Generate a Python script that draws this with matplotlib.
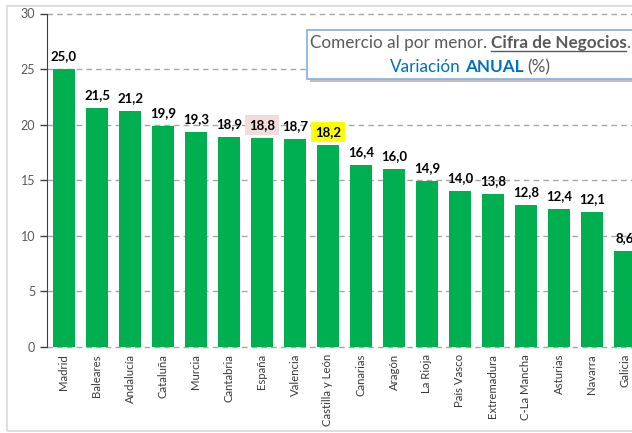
import matplotlib
matplotlib.use("Agg")
import matplotlib.pyplot as plt
from matplotlib.patches import Rectangle
from matplotlib.lines import Line2D

plt.rcParams['font.family'] = ['Lato', 'DejaVu Sans']

regiones = ["Madrid", "Baleares", "Andalucía", "Cataluña", "Murcia", "Cantabria",
            "España", "Valencia", "Castilla y León", "Canarias", "Aragón", "La Rioja",
            "País Vasco", "Extremadura", "C-La Mancha", "Asturias", "Navarra", "Galicia"]
variacion = [25.0, 21.5, 21.2, 19.9, 19.3, 18.9, 18.8, 18.7, 18.2, 16.4, 16.0, 14.9,
             14.0, 13.8, 12.8, 12.4, 12.1, 8.6]
destacados = {"España": "#f2dcdb", "Castilla y León": "#ffff00"}

W, H = 632, 433
fig = plt.figure(figsize=(W / 100, H / 100), dpi=100)

def fx(px):
    return px / W

def fy(py):
    return (H - py) / H

# marco exterior
fig.patches.append(Rectangle((fx(7), fy(431)), fx(700), fy(6) - fy(431),
                             transform=fig.transFigure, fill=False,
                             edgecolor="#d9d9d9", lw=1.2))

ax = fig.add_axes([fx(47), fy(347), fx(641.5) - fx(47), fy(13.5) - fy(347)])
x = list(range(len(regiones)))
ax.bar(x, variacion, width=0.67, color="#00b050", zorder=3)
ax.set_xlim(-0.515, len(regiones) - 0.5)
ax.set_ylim(0, 30)

for yv in range(0, 31, 5):
    ax.axhline(yv, color="#a6a6a6", lw=1, ls=(0, (4, 3)), zorder=1, clip_on=False)

ax.set_yticks(range(0, 31, 5))
ax.tick_params(axis="y", colors="#595959", labelsize=9, length=5, width=1)
ax.tick_params(axis="y", color="#404040")
ax.set_xticks(x)
ax.set_xticklabels(regiones, rotation=90, fontsize=8.2, color="#3a3a3a")
ax.tick_params(axis="x", length=0, pad=5)
for s in ["top", "right", "bottom"]:
    ax.spines[s].set_visible(False)
ax.spines["left"].set_color("#404040")
ax.spines["left"].set_zorder(4)

for xi, (reg, v) in enumerate(zip(regiones, variacion)):
    lbl = f"{v:.1f}".replace(".", ",")
    kw = {}
    if reg in destacados:
        kw["bbox"] = dict(boxstyle="square,pad=0.3", fc=destacados[reg], ec="none")
    ax.annotate(lbl, (xi, v), xytext=(0, 7), textcoords="offset pixels",
                ha="center", va="bottom", fontsize=9.5, fontweight="bold",
                color="black", zorder=5, **kw)

# cuadro del título
bx0, by0, bx1, by1 = 307, 30, 645, 79
fig.patches.append(Rectangle((fx(bx0 + 3), fy(by1 + 3)), fx(bx1 - bx0), fy(by0) - fy(by1),
                             transform=fig.transFigure, fc="#bfbfbf", ec="none", zorder=5))
fig.patches.append(Rectangle((fx(bx0), fy(by1)), fx(bx1 - bx0), fy(by0) - fy(by1),
                             transform=fig.transFigure, fc="white", ec="#8eb4e3",
                             lw=1.3, zorder=6))

gris = "#595959"
azul = "#0070c0"
linea1 = [("Comercio al por menor.", dict(color=gris), 4),
          ("Cifra de Negocios", dict(color=gris, fontweight="bold"), 0),
          (".", dict(color=gris), 0)]
linea2 = [("Variación", dict(color=azul), 4),
          ("ANUAL", dict(color=azul, fontweight="bold"), 4),
          ("(%)", dict(color=gris), 0)]

def linea(partes, ybase, xc):
    textos = []
    for s, kw, gap in partes:
        t = fig.text(0, fy(ybase), s, fontsize=12.3, va="baseline", ha="left",
                     zorder=7, **kw)
        textos.append((t, gap))
    fig.canvas.draw()
    r = fig.canvas.get_renderer()
    anchos = [t.get_window_extent(r).width + g for t, g in textos]
    xp = xc - sum(anchos) / 2
    for (t, g), w in zip(textos, anchos):
        t.set_x(fx(xp))
        xp += w
    return [t for t, g in textos]

t1 = linea(linea1, 48, 470)
linea(linea2, 72, 470)
fig.canvas.draw()
r = fig.canvas.get_renderer()
e = t1[1].get_window_extent(r)
yl = fy(48) - 2.5 / H
fig.lines.append(Line2D([e.x0 / W, e.x1 / W], [yl, yl], transform=fig.transFigure,
                        color=gris, lw=1, zorder=8))

fig.savefig("out.png", dpi=100)
